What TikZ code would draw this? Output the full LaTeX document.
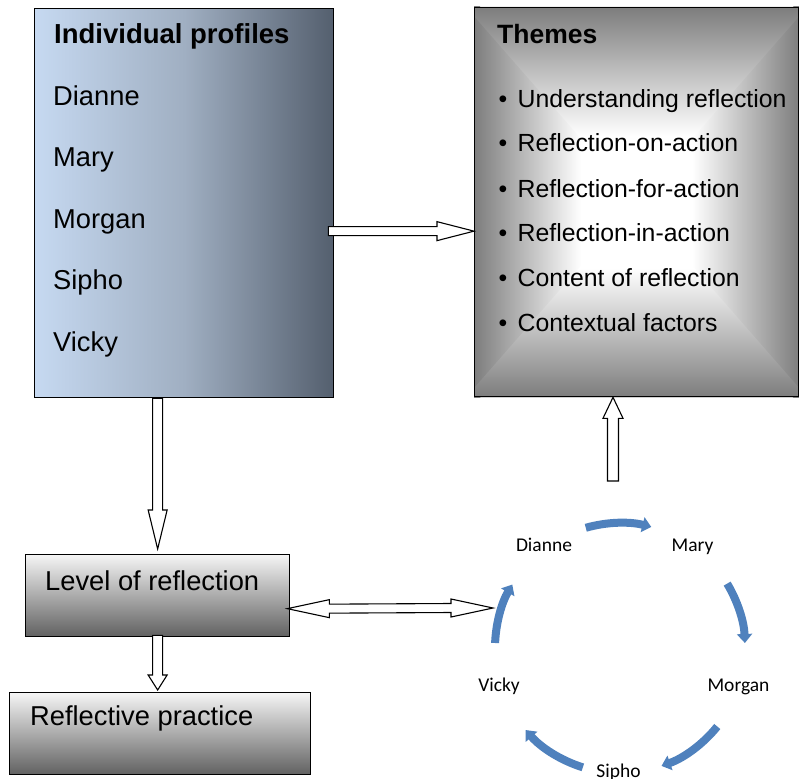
\documentclass[tikz,border=0pt]{standalone}
\usepackage{fontspec}
\setmainfont{Liberation Sans}
\newfontfamily\calib{Carlito}
\usetikzlibrary{arrows.meta,calc,backgrounds}
\definecolor{profL}{RGB}{198,217,241}
\definecolor{profM}{RGB}{160,175,194}
\definecolor{profR}{RGB}{84,95,110}
\definecolor{cyc}{RGB}{79,129,189}
\definecolor{thg}{RGB}{125,125,125}
% shadings for the rectangular "from centre" gradient of the Themes box
\pgfdeclareverticalshading{thtop}{100bp}{color(0bp)=(white); color(25bp)=(white); color(42bp)=(white); color(75bp)=(thg); color(100bp)=(thg)}
\pgfdeclareverticalshading{thbot}{100bp}{color(0bp)=(thg); color(25bp)=(thg); color(58bp)=(white); color(75bp)=(white); color(100bp)=(white)}
\pgfdeclarehorizontalshading{thleft}{100bp}{color(0bp)=(thg); color(25bp)=(thg); color(58bp)=(white); color(75bp)=(white); color(100bp)=(white)}
\pgfdeclarehorizontalshading{thright}{100bp}{color(0bp)=(white); color(25bp)=(white); color(42bp)=(white); color(75bp)=(thg); color(100bp)=(thg)}
% right-pointing block arrow: start, tip, shaft half width, head half width, head length
\newcommand\arrR[5]{\draw[blockarrow] ([yshift=#3]#1) -- ([xshift=-#5,yshift=#3]#2) -- ([xshift=-#5,yshift=#4]#2) -- (#2) -- ([xshift=-#5,yshift=-#4]#2) -- ([xshift=-#5,yshift=-#3]#2) -- ([yshift=-#3]#1) -- cycle;}
% vertical block arrow: start, tip, shaft hw, head hw, signed head length (canvas)
\newcommand\arrV[5]{\draw[blockarrow] ([xshift=-#3]#1) -- ([xshift=-#3,yshift=#5]#2) -- ([xshift=-#4,yshift=#5]#2) -- (#2) -- ([xshift=#4,yshift=#5]#2) -- ([xshift=#3,yshift=#5]#2) -- ([xshift=#3]#1) -- cycle;}
% double horizontal block arrow: left tip, right tip, shaft hw, head hw, head length
\newcommand\arrD[5]{\draw[blockarrow] (#1) -- ([xshift=#5,yshift=#4]#1) -- ([xshift=#5,yshift=#3]#1) -- ([xshift=-#5,yshift=#3]#2) -- ([xshift=-#5,yshift=#4]#2) -- (#2) -- ([xshift=-#5,yshift=-#4]#2) -- ([xshift=-#5,yshift=-#3]#2) -- ([xshift=#5,yshift=-#3]#1) -- ([xshift=#5,yshift=-#4]#1) -- cycle;}
\begin{document}
\begin{tikzpicture}[x=1pt,y=-1pt,
  box/.style={draw=black, line width=1.3pt, rectangle, inner sep=0pt, anchor=north west},
  blockarrow/.style={draw=black, fill=white, line width=1.1pt, line join=miter},
  bigtxt/.style={font=\fontsize{27.3}{32}\selectfont, anchor=base west, inner sep=0pt},
  bigbold/.style={font=\fontsize{27.5}{32}\selectfont\bfseries, anchor=base west, inner sep=0pt},
  medtxt/.style={font=\fontsize{24.8}{30}\selectfont, anchor=base west, inner sep=0pt},
  medbold/.style={font=\fontsize{26.5}{30}\selectfont\bfseries, anchor=base west, inner sep=0pt},
  bul/.style={font=\fontsize{24.8}{30}\selectfont, anchor=base, inner sep=0pt},
  cyctxt/.style={font=\fontsize{19.5}{23}\selectfont\calib, anchor=base, inner sep=0pt},
  cycarc/.style={draw=cyc, line width=8pt, -{Triangle[width=15pt,length=9pt]}}
]
\useasboundingbox (0,0) rectangle (799,778);

% boxes
\node[box, minimum width=299pt, minimum height=389pt, left color=profL, right color=profR, middle color=profM] (prof) at (34,8) {};
\node[box] (themes) at (474,7) [minimum width=324pt, minimum height=389pt] {};
\begin{scope}[on background layer]
\clip (themes.north west) rectangle (themes.south east);
\shade[shading=thleft] ($(themes.north west)+(0,-8)$) -- ($(themes.south west)+(0,8)$) -- (themes.center) -- cycle;
\shade[shading=thright] ($(themes.north east)+(0,-8)$) -- ($(themes.south east)+(0,8)$) -- (themes.center) -- cycle;
\shade[shading=thtop] ($(themes.north west)+(-8,0)$) -- ($(themes.north east)+(8,0)$) -- (themes.center) -- cycle;
\shade[shading=thbot] ($(themes.south west)+(-8,0)$) -- ($(themes.south east)+(8,0)$) -- (themes.center) -- cycle;
\end{scope}
\node[box, minimum width=264pt, minimum height=82pt, top color=white!96!black, bottom color=black!62] (level) at (25,554) {};
\node[box, minimum width=301pt, minimum height=82pt, top color=white!96!black, bottom color=black!62] (refl) at (9,692) {};

% texts in profile box
\node[bigbold] (tprof) at (54,44) {Individual profiles};
\node[bigtxt] (pd) at (53,106) {Dianne};
\node[bigtxt] (pm) at (53,167) {Mary};
\node[bigtxt] (pmo) at (53,228) {Morgan};
\node[bigtxt] (ps) at (53,289) {Sipho};
\node[bigtxt] (pv) at (53,351) {Vicky};

% texts in themes box
\node[medbold] (tth) at (497,44) {Themes};
\foreach \yy/\tt [count=\i] in {108/Understanding reflection,152/Reflection-on-action,197/Reflection-for-action,241/Reflection-in-action,286/Content of reflection,331/Contextual factors}{
  \node[bul] (b\i) at (503,\yy) {\textbullet};
  \node[medtxt] (th\i) at (517.5,\yy) {\tt};
}

\node[bigtxt] (tlevel) at (45,590) {Level of reflection};
\node[bigtxt] (trefl) at (30,725) {Reflective practice};

% block arrows
\coordinate (a1s) at ($(prof.east)+(-6,28)$);
\coordinate (a1t) at (themes.west |- a1s);
\arrR{a1s}{a1t}{4.5pt}{9.5pt}{37pt}

\coordinate (p1) at ($(prof.south)+(-26.5,0)$);
\coordinate (p2) at ($(p1 |- level.north)+(0,-5)$);
\arrV{p1}{p2}{5pt}{9.5pt}{39pt}

\coordinate (q1) at ($(p1 |- level.south)+(0,-2)$);
\coordinate (q2) at ($(p1 |- refl.north)+(0,-2)$);
\arrV{q1}{q2}{5pt}{9.5pt}{15pt}

\coordinate (u1) at (613,481);
\coordinate (u2) at (u1 |- themes.south);
\arrV{u1}{u2}{5.5pt}{10pt}{-21pt}

\coordinate (d1) at ($(level.east)+(-3,13)$);
\coordinate (d2) at (493,608);
\arrD{d1}{d2}{4.5pt}{9pt}{42pt}

% cycle
\coordinate (cc) at (620,648);
\node[cyctxt] (cd) at (544,551) {Dianne};
\node[cyctxt] (cm) at (692.5,551) {Mary};
\node[cyctxt] (cmo) at (738.5,691) {Morgan};
\node[cyctxt] (cv) at (499,691) {Vicky};
\node[cyctxt] (cs) at (618.5,777) {Sipho};
\draw[cycarc] ($(cc)+(105.9:125pt)$) arc[start angle=105.9, end angle=75.5, radius=125pt];
\draw[cycarc] ($(cc)+(31:125pt)$) arc[start angle=31, end angle=2.3, radius=125pt];
\draw[cycarc] ($(cc)+(-38.9:125pt)$) arc[start angle=-38.9, end angle=-70.6, radius=125pt];
\draw[cycarc] ($(cc)+(-107.3:125pt)$) arc[start angle=-107.3, end angle=-139, radius=125pt];
\draw[cycarc] ($(cc)+(177.7:125pt)$) arc[start angle=177.7, end angle=149.5, radius=125pt];
\end{tikzpicture}
\end{document}
